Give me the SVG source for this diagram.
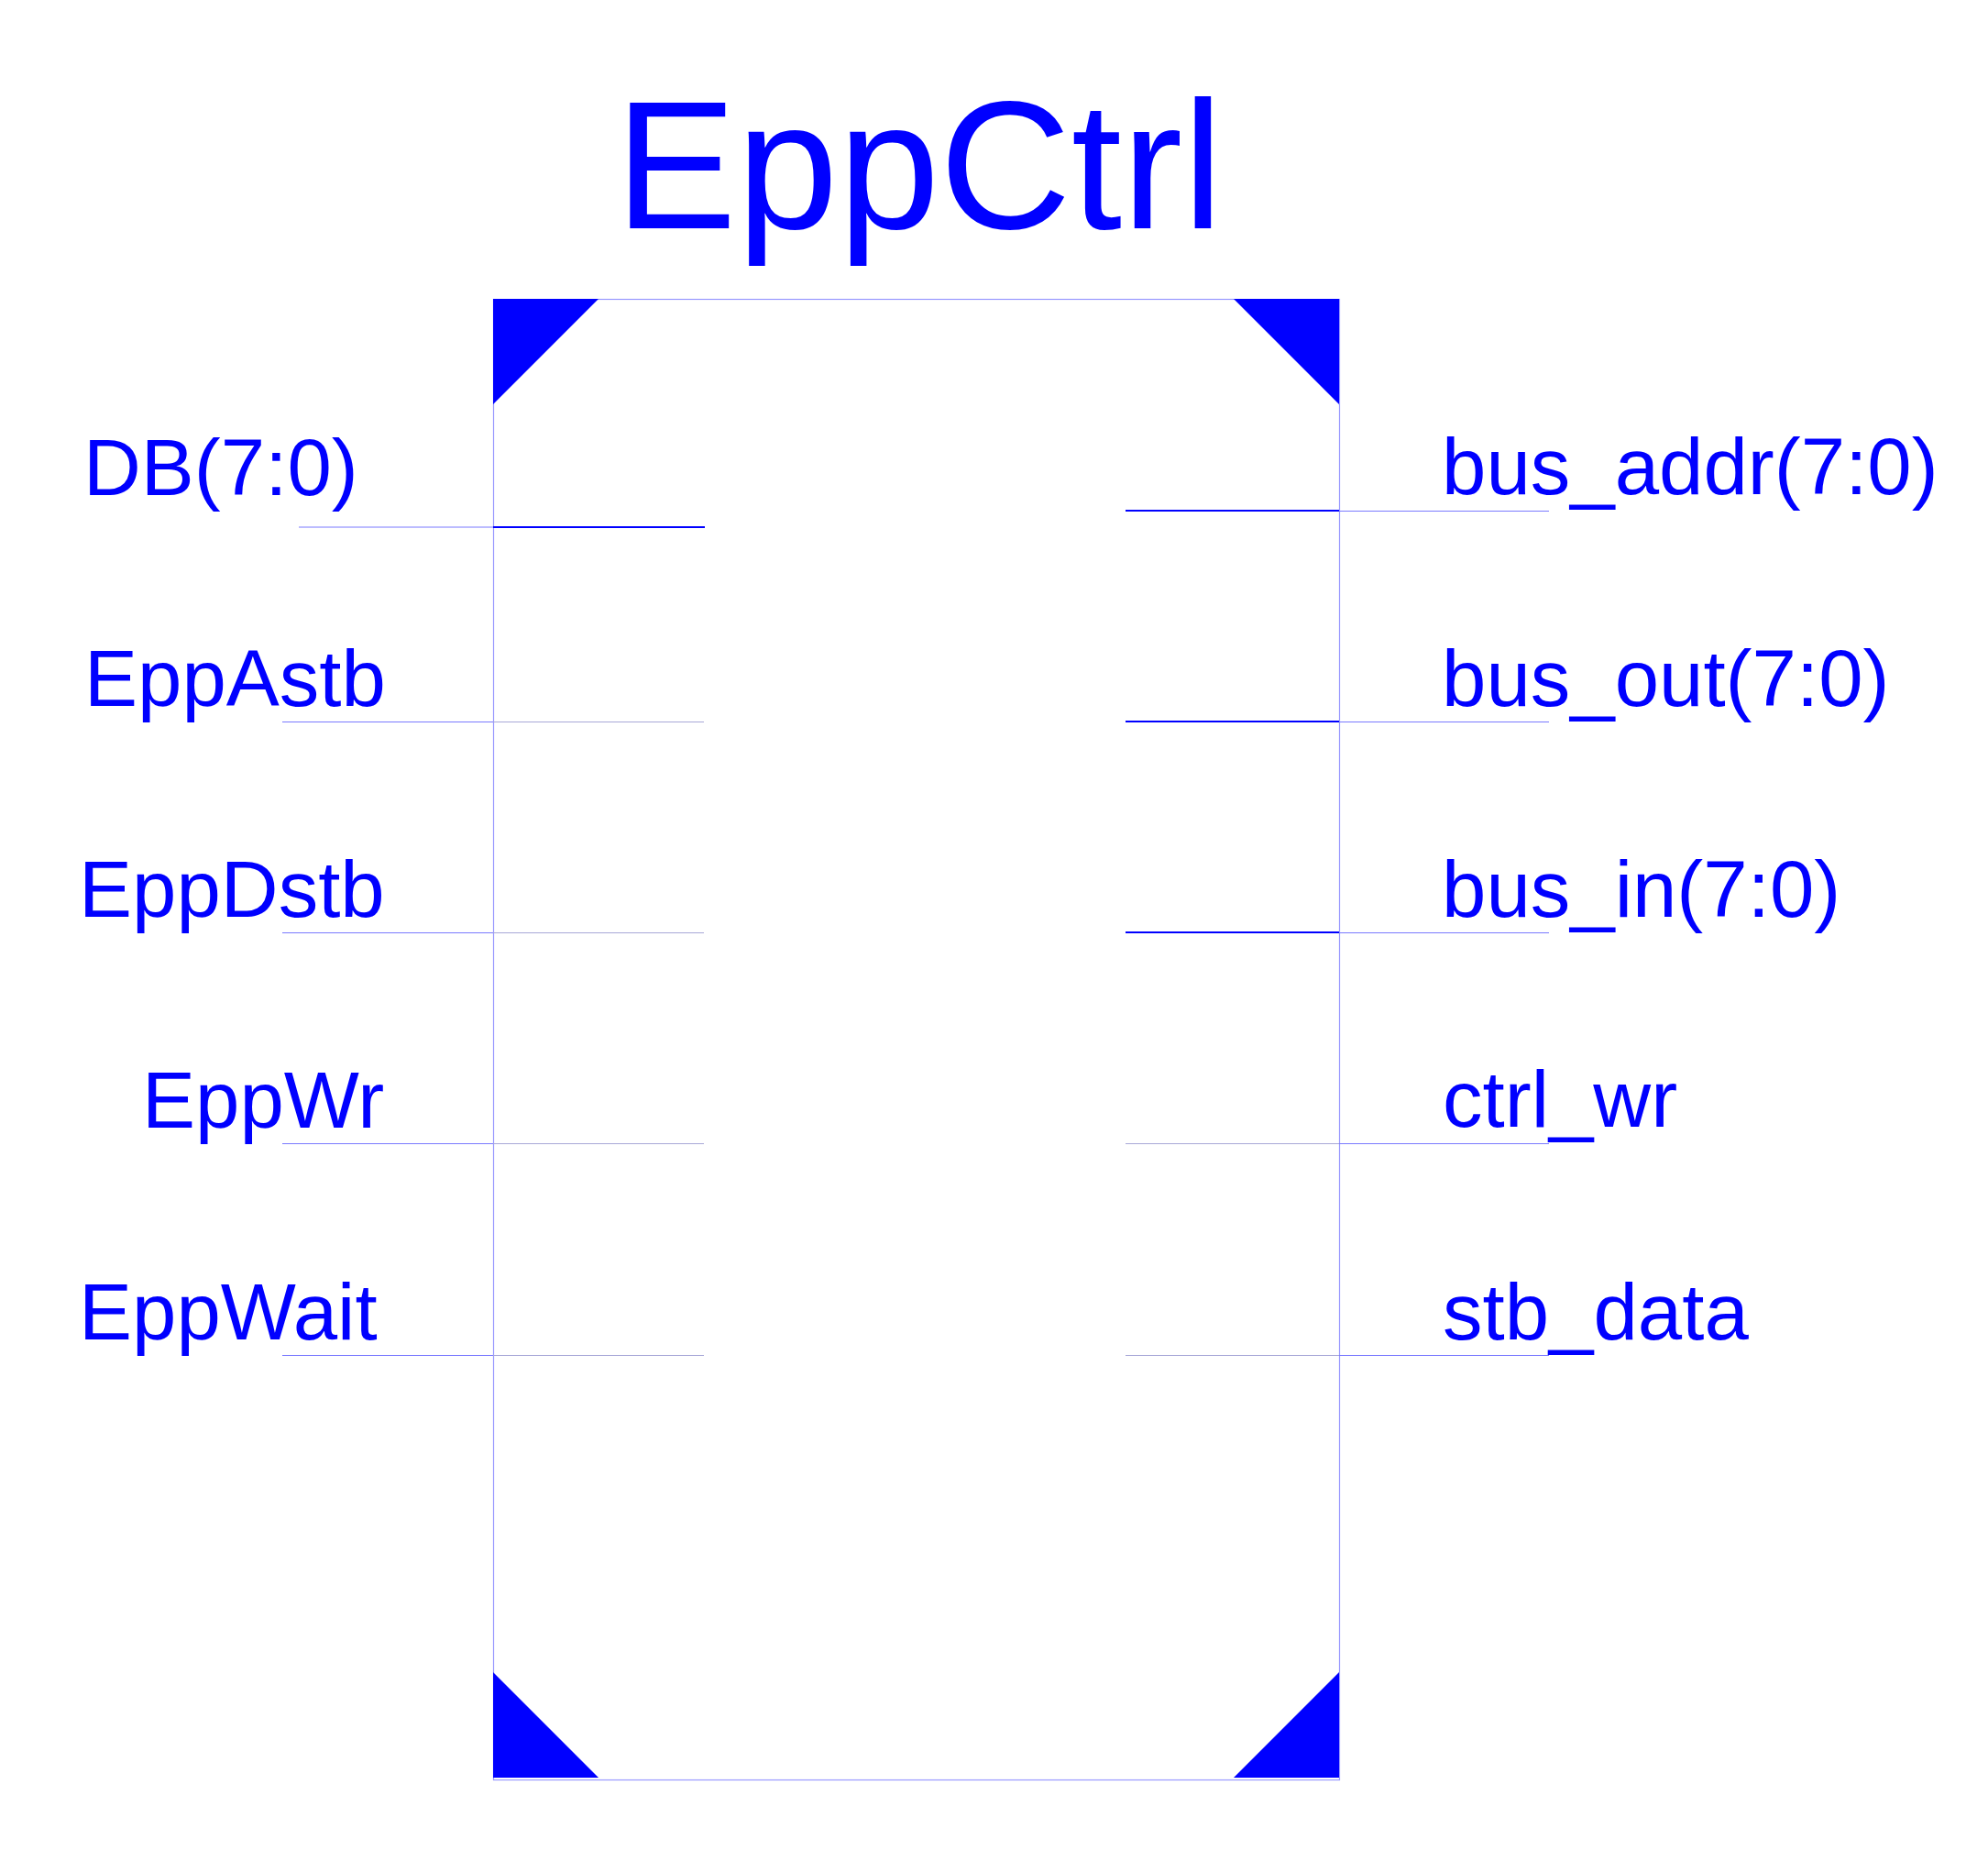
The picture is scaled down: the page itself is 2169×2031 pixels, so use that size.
<svg xmlns="http://www.w3.org/2000/svg" width="2169" height="2031" viewBox="0 0 2169 2031">
<style>
text{font-family:"Liberation Sans",Arial,sans-serif;fill:#0000ff}
.lbl{font-size:87px}
.title{font-size:199px}
.stub{stroke:#7a7aff;stroke-width:1.2;fill:none}
.inner{stroke:#a8a8d8;stroke-width:1;fill:none}
.bus{stroke:#0000ff;stroke-width:2.2;fill:none}
.corner{fill:#0000ff}
</style>
<rect width="2169" height="2031" fill="#ffffff"/>
<g id="EppCtrl">
<text class="title" x="671" y="249">EppCtrl</text>
<rect x="538.5" y="326.5" width="923" height="1615" fill="none" stroke="#9999ff" stroke-width="1.2"/>
<polygon class="corner" points="538,326 653,326 538,441"/>
<polygon class="corner" points="1346,326 1461,326 1461,441"/>
<polygon class="corner" points="538,1824 538,1939 653,1939"/>
<polygon class="corner" points="1461,1824 1461,1939 1346,1939"/>
</g>
<g id="connectors">
<line class="stub" x1="326" y1="575" x2="538" y2="575"/>
<line class="bus" x1="538" y1="575" x2="769" y2="575"/>
<line class="stub" x1="308" y1="787.5" x2="538" y2="787.5"/>
<line class="inner" x1="538" y1="787.5" x2="768" y2="787.5"/>
<line class="stub" x1="308" y1="1017.5" x2="538" y2="1017.5"/>
<line class="inner" x1="538" y1="1017.5" x2="768" y2="1017.5"/>
<line class="stub" x1="308" y1="1247.5" x2="538" y2="1247.5"/>
<line class="inner" x1="538" y1="1247.5" x2="768" y2="1247.5"/>
<line class="stub" x1="308" y1="1478.5" x2="538" y2="1478.5"/>
<line class="inner" x1="538" y1="1478.5" x2="768" y2="1478.5"/>
<line class="bus" x1="1228" y1="557" x2="1461" y2="557"/>
<line class="stub" x1="1461" y1="557.5" x2="1690" y2="557.5"/>
<line class="bus" x1="1228" y1="787" x2="1461" y2="787"/>
<line class="stub" x1="1461" y1="787.5" x2="1690" y2="787.5"/>
<line class="bus" x1="1228" y1="1017" x2="1461" y2="1017"/>
<line class="stub" x1="1461" y1="1017.5" x2="1690" y2="1017.5"/>
<line class="inner" x1="1228" y1="1247.5" x2="1461" y2="1247.5"/>
<line class="stub" x1="1461" y1="1247.5" x2="1690" y2="1247.5"/>
<line class="inner" x1="1228" y1="1478.5" x2="1461" y2="1478.5"/>
<line class="stub" x1="1461" y1="1478.5" x2="1690" y2="1478.5"/>
</g>
<g id="pin-DB"><text class="lbl" x="91" y="540">DB(7:0)</text></g>
<g id="pin-EppAstb"><text class="lbl" x="92" y="770">EppAstb</text></g>
<g id="pin-EppDstb"><text class="lbl" x="86" y="1000">EppDstb</text></g>
<g id="pin-EppWr"><text class="lbl" x="155" y="1230">EppWr</text></g>
<g id="pin-EppWait"><text class="lbl" x="86" y="1461">EppWait</text></g>
<g id="pin-bus_addr"><text class="lbl" x="1573" y="539">bus_addr(7:0)</text></g>
<g id="pin-bus_out"><text class="lbl" x="1573" y="770">bus_out(7:0)</text></g>
<g id="pin-bus_in"><text class="lbl" x="1573" y="1000">bus_in(7:0)</text></g>
<g id="pin-ctrl_wr"><text class="lbl" x="1574" y="1229">ctrl_wr</text></g>
<g id="pin-stb_data"><text class="lbl" x="1574" y="1461">stb_data</text></g>
</svg>
